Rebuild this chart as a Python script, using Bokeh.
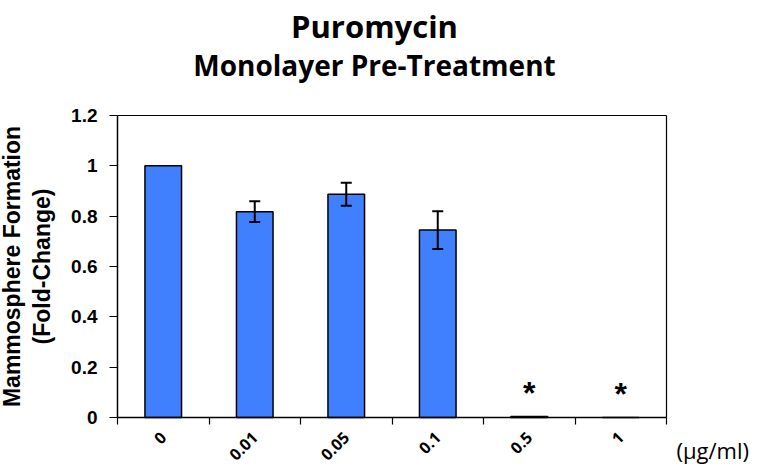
from bokeh.plotting import figure
from bokeh.models import (FixedTicker, Whisker, TeeHead, ColumnDataSource, Label,
                          LinearAxis)
from bokeh.core.properties import value
from bokeh.embed import file_html
from bokeh.resources import INLINE

# ---- data ----
doses = ["0", "0.01", "0.05", "0.1", "0.5", "1"]
fold_change = [1.0, 0.818, 0.887, 0.745, 0.004, 0.0]
error = [0.0, 0.041, 0.046, 0.075, 0.0, 0.0]
significance = ["", "", "", "", "*", "*"]
y_ticks = [0, 0.2, 0.4, 0.6, 0.8, 1.0, 1.2]
y_tick_labels = ["0", "0.2", "0.4", "0.6", "0.8", "1", "1.2"]
title_text = "Puromycin"
subtitle_text = "Monolayer Pre-Treatment"
unit_text = "(\u03bcg/ml)"
y_label = "Mammosphere Formation\n(Fold-Change)"

BAR_COLOR = "#4080ff"

n = len(doses)
y_max = y_ticks[-1]
centers = [i + 0.5 for i in range(n)]
boundaries = list(range(n + 1))

# ---- canvas geometry: the frame fills the canvas; the chart box sits inside ----
W, H = 750, 465
BOX_LEFT, BOX_BOTTOM = 117, 417          # pixel position of (0, 0) inside the canvas
PX_X = 549 / n                            # pixels per category
PX_Y = 302 / y_max                        # pixels per unit
x_start = -BOX_LEFT / PX_X
x_end = (W - BOX_LEFT) / PX_X
y_start = -(H - BOX_BOTTOM) / PX_Y
y_end = BOX_BOTTOM / PX_Y


def cx(px):
    return (px - BOX_LEFT) / PX_X


def cy(py):
    return (BOX_BOTTOM - py) / PX_Y


p = figure(
    frame_width=W, frame_height=H,
    min_border_left=0, min_border_right=0, min_border_top=0, min_border_bottom=0,
    x_range=(x_start, x_end), y_range=(y_start, y_end),
    output_backend="svg", toolbar_location=None,
)
p.title.text = ""
p.outline_line_color = None
p.xgrid.visible = False
p.ygrid.visible = False
p.background_fill_color = "white"
p.border_fill_color = "white"

src = ColumnDataSource(dict(x=centers, top=fold_change, dose=doses))
p.vbar(x="x", top="top", bottom=0, width=0.4, source=src,
       fill_color=BAR_COLOR, line_color="black", line_width=1.5)

err_idx = [i for i in range(n) if error[i] > 0]
esrc = ColumnDataSource(dict(
    x=[centers[i] for i in err_idx],
    upper=[fold_change[i] + error[i] for i in err_idx],
    lower=[fold_change[i] - error[i] for i in err_idx],
))
w = Whisker(base="x", upper="upper", lower="lower", source=esrc,
            line_color="black", line_width=2, level="overlay",
            upper_head=TeeHead(size=11, line_width=2, line_color="black"),
            lower_head=TeeHead(size=11, line_width=2, line_color="black"))
p.add_layout(w)

star_idx = [i for i in range(n) if significance[i]]
ssrc = ColumnDataSource(dict(
    x=[centers[i] for i in star_idx],
    y=[fold_change[i] + 0.095 for i in star_idx],
    t=[significance[i] for i in star_idx],
))
p.text(x="x", y="y", text="t", source=ssrc, text_align="center", text_baseline="middle",
       text_font=value("Liberation Sans"), text_font_style="bold", text_font_size="32px",
       text_color="black")

# ---- y axis ----
ya = p.yaxis[0]
ya.fixed_location = 0
ya.bounds = (0, y_max)
ya.ticker = FixedTicker(ticks=y_ticks)
ya.major_label_overrides = {t: l for t, l in zip(y_ticks, y_tick_labels)}
ya.major_tick_out = 8
ya.major_tick_in = 0
ya.minor_tick_out = 0
ya.minor_tick_in = 0
ya.major_label_standoff = 12
ya.major_label_text_font = "Liberation Sans"
ya.major_label_text_font_style = "bold"
ya.major_label_text_font_size = "19px"
ya.major_label_text_color = "black"
ya.axis_line_color = "black"
ya.axis_line_width = 1.5
ya.major_tick_line_color = "black"
ya.major_tick_line_width = 1.2
ya.axis_label = y_label
ya.axis_label_text_font = "Liberation Sans"
ya.axis_label_text_font_style = "bold"
ya.axis_label_text_font_size = "23px"
ya.axis_label_text_line_height = 1.15
ya.axis_label_text_color = "black"
ya.axis_label_standoff = 13

# ---- x axis: labels at centres, ticks at category boundaries ----
xa = p.xaxis[0]
xa.fixed_location = 0
xa.bounds = (0, n)
xa.ticker = FixedTicker(ticks=centers, minor_ticks=boundaries)
xa.major_label_overrides = {c: d for c, d in zip(centers, doses)}
xa.major_tick_out = 0
xa.major_tick_in = 0
xa.minor_tick_out = 7
xa.minor_tick_in = 0
xa.minor_tick_line_color = "black"
xa.minor_tick_line_width = 1.2
xa.axis_line_color = "black"
xa.axis_line_width = 1.5
xa.major_label_orientation = 0.785398
xa.major_label_standoff = 10
xa.major_label_text_font = "Open Sans"
xa.major_label_text_font_style = "bold"
xa.major_label_text_font_size = "16px"
xa.major_label_text_color = "black"

# ---- top and right edges of the chart box ----
top_edge = LinearAxis(fixed_location=y_max, bounds=(0, n), ticker=FixedTicker(ticks=[]),
                      axis_line_color="black", axis_line_width=1.2,
                      major_tick_line_color=None, minor_tick_line_color=None,
                      major_label_text_font_size="0px")
p.add_layout(top_edge, "above")
right_edge = LinearAxis(fixed_location=n, bounds=(0, y_max), ticker=FixedTicker(ticks=[]),
                        axis_line_color="black", axis_line_width=1.2,
                        major_tick_line_color=None, minor_tick_line_color=None,
                        major_label_text_font_size="0px")
p.add_layout(right_edge, "right")

# ---- titles and unit label ----
p.add_layout(Label(x=cx(374), y=cy(25), text=title_text,
                   text_align="center", text_baseline="alphabetic", text_font="Open Sans",
                   text_font_style="bold", text_font_size="31px", text_color="black"))
p.add_layout(Label(x=cx(374), y=cy(64), text=subtitle_text,
                   text_align="center", text_baseline="alphabetic", text_font="Open Sans",
                   text_font_style="bold", text_font_size="28px", text_color="black"))
p.add_layout(Label(x=cx(676), y=cy(449), text=unit_text,
                   text_align="left", text_baseline="middle", text_font="Open Sans",
                   text_font_size="22px", text_color="black"))

open("out.html", "w").write(file_html(p, INLINE))
